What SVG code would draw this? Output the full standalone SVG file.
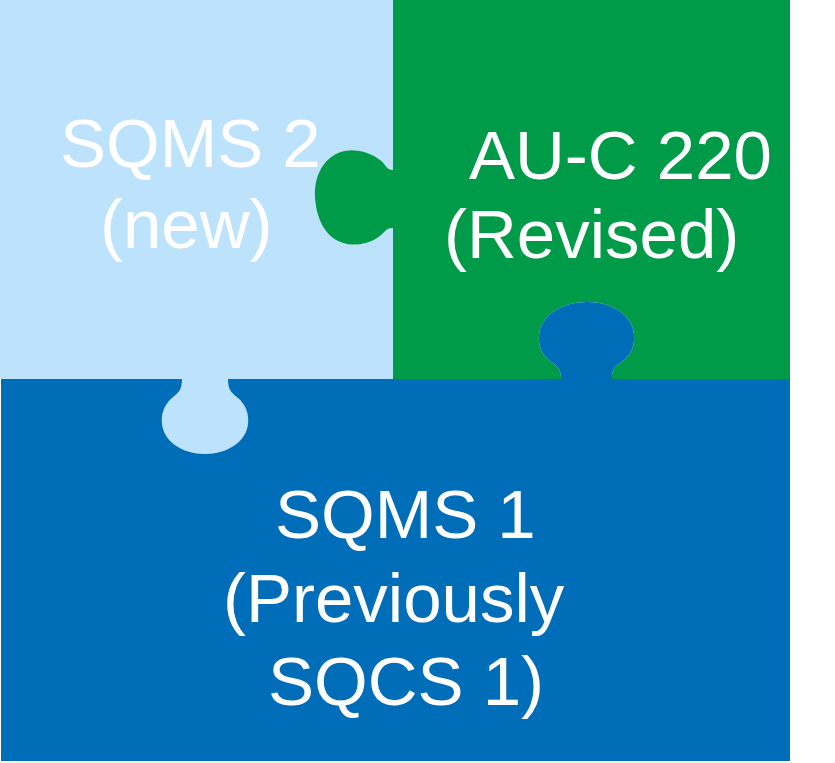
<svg xmlns="http://www.w3.org/2000/svg" width="835" height="763" viewBox="0 0 835 763">
<style>
.lbl{font-family:"Liberation Sans",Arial,sans-serif;font-size:69px;fill:#ffffff}
.lb{fill:#BDE2FC}
.gr{fill:#009B48}
.bl{fill:#006DB8}
</style>
<rect width="835" height="763" fill="#ffffff"/>
<g id="piece-sqms2">
<path class="lb" d="M0,0 L393,0 L393,170 C386,170 386,164 380,160 C370,152 352,147 338,153 C322,160 314,178 315,197 C316,217 324,234 338,241 C352,248 370,244 380,236 C386,231 386,228 393,228 L393,379 L228,379 C228,388 230,392 238,398 C246,405 249,414 248,424 C246,442 227,454 205,454 C183,454 164,442 162,424 C161,414 164,405 172,398 C180,392 182,388 182,379 L0,379 Z"/>
<text class="lbl" x="60" y="167">SQMS 2</text>
<text class="lbl" x="100" y="248">(new)</text>
</g>
<g id="piece-auc220">
<path class="gr" d="M393,0 L790,0 L790,379 L612,379 C612,369 614,367 622,362 C630,356 635,347 634,335 C633,315 612,302 587,302 C562,302 541,315 539,335 C538,346 542,355 550,361 C558,367 561,369 561,379 L393,379 L393,228 C386,228 386,231 380,236 C370,244 352,248 338,241 C324,234 316,217 315,197 C314,178 322,160 338,153 C352,147 370,152 380,160 C386,164 386,170 393,170 Z"/>
<text class="lbl" x="469" y="179">AU-C 220</text>
<text class="lbl" x="444" y="258">(Revised)</text>
</g>
<g id="piece-sqms1">
<path class="bl" d="M1,379 L182,379 C182,388 180,392 172,398 C164,405 161,414 162,424 C164,442 183,454 205,454 C227,454 246,442 248,424 C249,414 246,405 238,398 C230,392 228,388 228,379 L561,379 C561,369 558,367 550,361 C542,355 538,346 539,335 C541,315 562,302 587,302 C612,302 633,315 634,335 C635,347 630,356 622,362 C614,367 612,369 612,379 L790,379 L790,761 L1,761 Z"/>
<text class="lbl" x="275" y="538">SQMS 1</text>
<text class="lbl" x="223" y="622">(Previously</text>
<text class="lbl" x="268" y="705">SQCS 1)</text>
</g>
<g id="connectors"></g>
</svg>
